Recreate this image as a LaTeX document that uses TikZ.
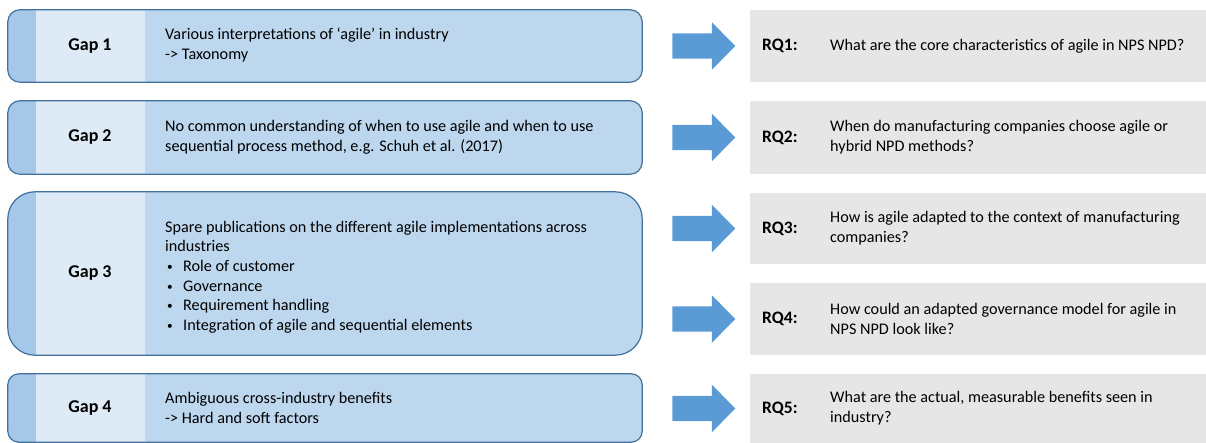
\documentclass[tikz,border=0pt]{standalone}
\usepackage{fontspec}
\setmainfont{Carlito}
\usetikzlibrary{shapes.arrows}

\definecolor{gapmid}{HTML}{BDD7EE}
\definecolor{gaplight}{HTML}{DEEBF7}
\definecolor{gapdark}{HTML}{A5C8E8}
\definecolor{gapline}{HTML}{41719C}
\definecolor{arrowblue}{HTML}{5B9BD5}
\definecolor{rqgray}{HTML}{E7E6E6}

\newcommand{\gapitem}[1]{\\\hspace*{2pt}\makebox[16pt][l]{\raisebox{1pt}{\scalebox{0.7}{\textbullet}}}#1}

\tikzset{
	txt/.style = {font=\fontsize{16.2}{19.6}\selectfont, inner sep=0pt, align=left, anchor=west},
	gaplabel/.style = {font=\fontsize{18}{19.6}\selectfont\bfseries, inner sep=0pt},
	rqlabel/.style = {font=\fontsize{17.5}{19.6}\selectfont\bfseries, inner sep=0pt, anchor=west},
	gapbox/.style = {draw=none, minimum width=634pt, inner sep=0pt},
	rqbox/.style = {fill=rqgray, minimum width=456pt, inner sep=0pt, anchor=west},
	bigarrow/.style = {single arrow, fill=arrowblue, minimum height=63pt, minimum width=47pt,
		inner xsep=0pt, inner ysep=12.5pt, single arrow head extend=11pt, single arrow tip angle=91}
}

\begin{document}
\begin{tikzpicture}[x=1pt, y=-1pt]
	\useasboundingbox (0,0) rectangle (1206,443);
	\foreach \n/\t/\b/\r in {1/10/82/12, 2/101/174/12, 3/192/355/27, 4/374/442/11}{
		\node [gapbox, minimum height={(\b-\t)*1pt}] (box\n) at (325,{(\t+\b)/2}) {};
		\begin{scope}
			\clip [rounded corners=\r pt] (box\n.north west) rectangle (box\n.south east);
			\fill [gapdark] (box\n.north west) rectangle (36,\b);
			\fill [gaplight] (36,\t) rectangle (145,\b);
			\fill [gapmid] (145,\t) rectangle (box\n.south east);
		\end{scope}
		\draw [gapline, line width=1.2pt, rounded corners=\r pt] (box\n.north west) rectangle (box\n.south east);
		\node [gaplabel] (gap\n) at (90,{(\t+\b)/2}) {Gap \n};
	}
	\node [txt] (gtxt1) at (165,45) {Various interpretations of ‘agile’ in industry\\-> Taxonomy};
	\node [txt] (gtxt2) at (165,137) {No common understanding of when to use agile and when to use\\sequential process method, e.g. Schuh et al. (2017)};
	\node [txt] (gtxt3) at (165,277) {Spare publications on the different agile implementations across\\industries
		\gapitem{Role of customer}\gapitem{Governance}\gapitem{Requirement handling}\gapitem{Integration of agile and sequential elements}};
	\node [txt] (gtxt4) at (165,408) {Ambiguous cross-industry benefits\\-> Hard and soft factors};

	\foreach \n/\t/\b in {1/10/82, 2/101/174, 3/193/264, 4/283/355, 5/374/443}{
		\node [rqbox, minimum height={(\b-\t)*1pt}] (rq\n) at (750,{(\t+\b)/2}) {};
		\node [rqlabel] (rql\n) at (762,{(\t+\b)/2}) {RQ\n:};
		\node [bigarrow] (arr\n) at (697.5,{(\t+\b)/2}) {};
	}
	\node [txt] (q1) at (830,46) {What are the core characteristics of agile in NPS NPD?};
	\node [txt] (q2) at (830,137) {When do manufacturing companies choose agile or\\hybrid NPD methods?};
	\node [txt] (q3) at (830,228) {How is agile adapted to the context of manufacturing\\companies?};
	\node [txt] (q4) at (830,319) {How could an adapted governance model for agile in\\NPS NPD look like?};
	\node [txt] (q5) at (830,408) {What are the actual, measurable benefits seen in\\industry?};
\end{tikzpicture}
\end{document}
